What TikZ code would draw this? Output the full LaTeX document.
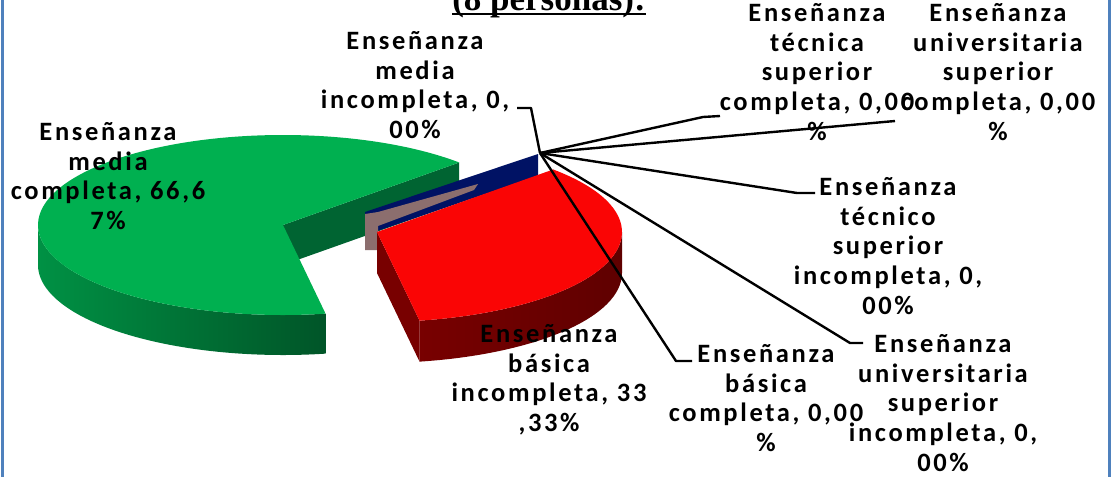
\documentclass[tikz,border=0pt]{standalone}
\usepackage{fontspec}
\setmainfont{Carlito}
\newfontfamily\labfam[LetterSpace=10]{Carlito}
\newfontfamily\titfam{Liberation Serif}
\usetikzlibrary{calc}
\definecolor{bordercol}{RGB}{79,129,189}
\definecolor{gtop}{RGB}{0,176,80}
\definecolor{gwallL}{RGB}{0,145,68}
\definecolor{gwallR}{RGB}{0,85,40}
\definecolor{gcut}{RGB}{0,100,50}
\definecolor{rtop}{RGB}{250,5,5}
\definecolor{rwallL}{RGB}{120,0,0}
\definecolor{rwallR}{RGB}{95,0,0}
\definecolor{navy}{RGB}{0,18,100}
\definecolor{mauve}{RGB}{140,110,110}
\tikzset{
  lab/.style={font={\labfam\bfseries\fontsize{26.5}{29.8}\selectfont}, align=center, inner sep=0pt, anchor=north},
  leader/.style={draw=black, line width=2.4pt, line join=round},
}
\begin{document}
\begin{tikzpicture}[x=1pt,y=-1pt]
\clip (0,0) rectangle (1112,477);
\fill[white] (0,0) rectangle (1112,477);
\fill[bordercol] (1,0) rectangle (4,477);
\fill[bordercol] (1107.5,0) rectangle (1110.5,477);
% title
\node[font={\titfam\bfseries\fontsize{35}{40}\selectfont}, anchor=base, inner sep=0pt] (title) at (549,10) {(8 personas):};
\draw[line width=2.5pt] ([yshift=-4pt]title.base west) -- ([yshift=-4pt]title.base east);
% green slice
\coordinate (G) at (283,225);
\coordinate (GU) at ($(G)+(-44:245 and 90)$);
\fill[gcut] (G) -- (GU) -- ($(GU)+(0,40)$) -- ($(G)+(0,40)$) -- cycle;
\shade[left color=gwallL, right color=gwallR] ($(G)+(180:245 and 90)$) arc[start angle=180, end angle=80, x radius=245, y radius=90] -- ++(0,40) arc[start angle=80, end angle=180, x radius=245, y radius=90] -- cycle;
\fill[gtop] (G) -- (GU) arc[start angle=-44, end angle=-280, x radius=245, y radius=90] -- cycle;
% zero slices
\fill[navy] (365,212) -- (538,154) -- (538,176) -- (377,231) -- (365,234) -- cycle;
\fill[mauve] (365,214) -- (378,212) -- (478,184) -- (474,190) -- (378,226) -- (378,250) -- (365,250) -- cycle;
\fill[navy] (380,232) -- (392,228) -- (388,236) -- cycle;
% red slice
\coordinate (R) at (377,232);
\coordinate (RL) at ($(R)+(80:245 and 90)$);
\fill[rwallL] (R) -- (RL) -- ($(RL)+(0,41)$) -- ($(R)+(0,41)$) -- cycle;
\shade[left color=rwallL, right color=rwallR] (RL) arc[start angle=80, end angle=0, x radius=245, y radius=90] -- ++(0,41) arc[start angle=0, end angle=80, x radius=245, y radius=90] -- cycle;
\fill[rtop] (R) -- ($(R)+(-44:245 and 90)$) arc[start angle=-44, end angle=80, x radius=245, y radius=90] -- cycle;
% labels
\node[lab] (L1) at (415,31) {Enseñanza\\media\\incompleta, 0,\\00\%};
\node[lab] (L2) at (108,122) {Enseñanza\\media\\completa, 66,6\\7\%};
\node[lab] (L3) at (549,324) {Enseñanza\\básica\\incompleta, 33\\,33\%};
\node[lab] (L4) at (817,3) {Enseñanza\\técnica\\superior\\completa, 0,00\\\%};
\node[lab] (L5) at (998,3) {Enseñanza\\universitaria\\superior\\completa, 0,00\\\%};
\node[lab] (L6) at (888,177) {Enseñanza\\técnico\\superior\\incompleta, 0,\\00\%};
\node[lab] (L7) at (943,334) {Enseñanza\\universitaria\\superior\\incompleta, 0,\\00\%};
\node[lab] (L8) at (766,344) {Enseñanza\\básica\\completa, 0,00\\\%};
% leaders
\coordinate (hub) at (540,153);
\coordinate (e1) at (531,108); \coordinate (t1) at (517,108);
\coordinate (e4) at (703,117); \coordinate (t4) at (720,116);
\coordinate (t5) at (895,121);
\coordinate (e6) at (797,193); \coordinate (t6) at (815,193);
\coordinate (e7) at (850,343); \coordinate (t7) at (863,343);
\coordinate (e8) at (676,361); \coordinate (t8) at (692,361);
\draw[leader] (hub) -- (e1) -- (t1);
\draw[leader] (hub) -- (e4) -- (t4);
\draw[leader] (hub) -- (t5);
\draw[leader] (hub) -- (e6) -- (t6);
\draw[leader] (hub) -- (e7) -- (t7);
\draw[leader] (hub) -- (e8) -- (t8);
\end{tikzpicture}
\end{document}
